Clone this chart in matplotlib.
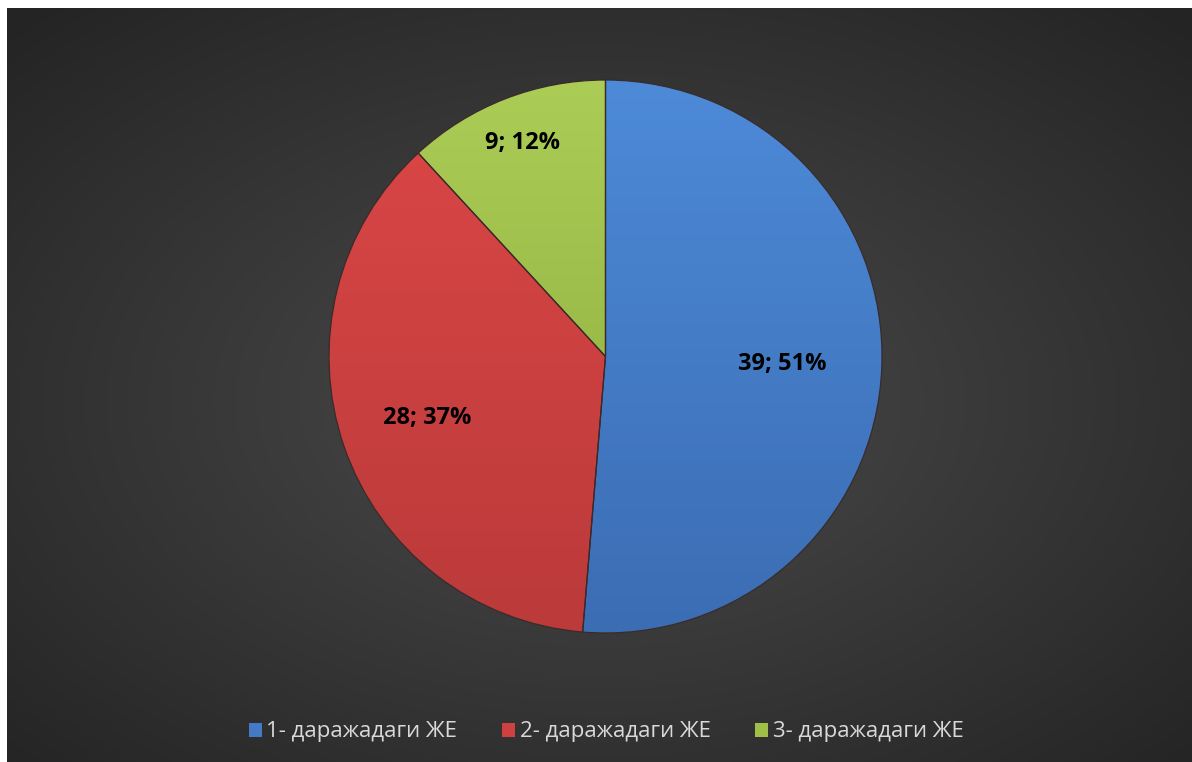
import numpy as np
import matplotlib
matplotlib.use('Agg')
import matplotlib.pyplot as plt
from matplotlib.patches import Patch

categories = ['1- даражадаги ЖЕ', '2- даражадаги ЖЕ', '3- даражадаги ЖЕ']
values = [39, 28, 9]

base_colors = ['#4479c6', '#cf4141', '#9fbf47']
top_colors = ['#4d8ad8', '#dc4747', '#abcc55']
bot_colors = ['#3b6db3', '#bb3a3a', '#8aaa3c']
label_dist = [0.64, 0.68, 0.83]

plt.rcParams['font.family'] = ['Open Sans', 'DejaVu Sans']

W, H = 1192, 762
fig = plt.figure(figsize=(W / 100, H / 100), dpi=100)
fig.patch.set_facecolor('white')

# background radial gradient
bg = fig.add_axes([7 / W, 0, 1 - 7 / W, 1 - 8 / H])
bg.set_axis_off()
ny, nx = 300, 470
yy, xx = np.mgrid[0:ny, 0:nx]
cx, cy = nx * 0.5, ny * 0.52
d = np.sqrt(((xx - cx) / (nx * 0.5)) ** 2 + ((yy - cy) / (ny * 0.5)) ** 2) / np.sqrt(2)
v = (0x4b - (0x4b - 0x24) * np.clip(d, 0, 1)) / 255
bg.imshow(np.dstack([v, v, v]), aspect='auto', extent=[0, 1, 0, 1], interpolation='bilinear')
bg.set_xlim(0, 1); bg.set_ylim(0, 1)

# pie
r_px, cx_px, cy_px = 276.5, 605.5, 356.5
ax = fig.add_axes([(cx_px - r_px) / W, 1 - (cy_px + r_px) / H, 2 * r_px / W, 2 * r_px / H])
wedges, _ = ax.pie(values, colors=base_colors, startangle=90, counterclock=False, radius=1,
                   wedgeprops=dict(linewidth=0))


def hex2rgb(h):
    h = h.lstrip('#')
    return np.array([int(h[i:i + 2], 16) for i in (0, 2, 4)]) / 255.0


t = np.linspace(0, 1, 256)[:, None]
for w, tc, bc in zip(wedges, top_colors, bot_colors):
    g = hex2rgb(tc)[None, None, :] * (1 - t[..., None]) + hex2rgb(bc)[None, None, :] * t[..., None]
    g = np.repeat(g, 4, axis=1)
    im = ax.imshow(g, extent=[-1, 1, -1, 1], aspect='auto', zorder=2, interpolation='bilinear')
    im.set_clip_path(w)

ax.pie(values, colors=['none'] * 3, startangle=90, counterclock=False, radius=1,
       wedgeprops=dict(edgecolor='#3a2a2a', linewidth=0.9, zorder=3))

total = sum(values)
ang = 90.0
for val, dist in zip(values, label_dist):
    span = 360.0 * val / total
    mid = np.deg2rad(ang - span / 2)
    ang -= span
    ax.text(dist * np.cos(mid), dist * np.sin(mid), f"{val}; {round(100 * val / total)}%",
            ha='center', va='center', fontsize=17, fontweight='bold', color='black', zorder=5)

ax.set_xlim(-1, 1); ax.set_ylim(-1, 1)
ax.set_aspect('auto')
ax.set_axis_off()

handles = [Patch(facecolor=c, edgecolor='none') for c in base_colors]
fig.legend(handles=handles, labels=categories, loc='center', bbox_to_anchor=(606 / W, 1 - 732 / H),
           ncol=3, frameon=False, handlelength=0.6, handleheight=0.6, handletextpad=0.2,
           columnspacing=2.0, fontsize=16, labelcolor='#d9d9d9')

fig.savefig('out.png', dpi=100, facecolor=fig.get_facecolor())
